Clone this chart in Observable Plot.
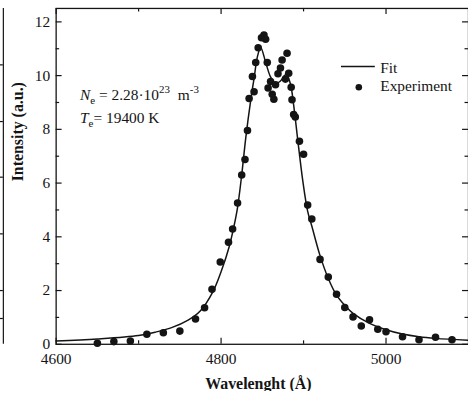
<!DOCTYPE html>
<html><head><meta charset="utf-8">
<script src="https://cdn.jsdelivr.net/npm/d3@7"></script>
<script src="https://cdn.jsdelivr.net/npm/@observablehq/plot@0.6"></script>
<style>html,body{margin:0;padding:0;background:#fff;overflow:hidden;}</style>
</head><body><div id="chart"></div>
<script>
// Experimental points (wavelength Å, intensity a.u.)
const expX = [4650, 4670, 4690, 4710, 4730, 4750, 4769, 4780, 4789, 4799, 4809, 4814, 4820, 4825, 4829, 4832, 4834, 4840, 4838, 4842, 4845, 4849, 4852, 4854, 4856, 4857, 4860, 4862, 4864, 4866, 4869, 4872, 4874, 4878, 4880, 4882, 4885, 4886, 4888, 4890, 4895, 4900, 4905, 4910, 4920, 4930, 4940, 4950, 4960, 4970, 4980, 4990, 5000, 5020, 5040, 5060, 5080];
const expY = [0.04, 0.10, 0.12, 0.37, 0.43, 0.49, 0.94, 1.36, 2.05, 3.06, 3.80, 4.29, 5.26, 6.30, 6.88, 7.96, 9.15, 9.40, 9.97, 10.49, 11.04, 11.41, 11.51, 11.35, 10.49, 9.54, 9.78, 9.31, 9.12, 9.66, 10.07, 10.28, 10.58, 9.87, 10.83, 10.09, 9.57, 9.10, 8.55, 8.46, 7.56, 7.07, 5.18, 4.66, 3.16, 2.50, 1.86, 1.37, 1.02, 0.68, 0.91, 0.56, 0.47, 0.28, 0.17, 0.26, 0.17];
// Fit curve
const fitX = [4600, 4650, 4700, 4720, 4740, 4760, 4775, 4790, 4800, 4810, 4816, 4820, 4825, 4830, 4836, 4840, 4844, 4848, 4854, 4860, 4866, 4872, 4879, 4884, 4888, 4893, 4899, 4905, 4910, 4920, 4930, 4940, 4950, 4960, 4980, 5000, 5020, 5040, 5060, 5100];
const fitY = [0.12, 0.20, 0.33, 0.45, 0.62, 0.90, 1.25, 1.95, 2.70, 3.65, 4.45, 5.10, 6.30, 7.70, 9.10, 9.90, 10.70, 11.05, 10.50, 9.95, 9.70, 9.80, 10.05, 9.70, 8.90, 7.60, 6.10, 4.95, 4.40, 3.30, 2.45, 1.83, 1.45, 1.15, 0.78, 0.54, 0.38, 0.28, 0.22, 0.15];
// Ticks
const xMajorTicks = [4600, 4800, 5000];
const xMinorTicks = [4700, 4900];
const yMajorTicks = [0, 2, 4, 6, 8, 10, 12];
const yMinorTicks = [1, 3, 5, 7, 9, 11];
// Labels
const xLabel = "Wavelenght (Å)";
const yLabel = "Intensity (a.u.)";
const legendLabels = ["Fit", "Experiment"];
// Edge of the neighbouring panel (cropped), its tick positions
const prevPanelEdgeX = 4536;
const prevPanelTicksY = [10.4, 8.29, 6.22, 4.11, 2.0, 0.96];

const fit = fitX.map((x, i) => ({x, y: fitY[i]}));
const exp = expX.map((x, i) => ({x, y: expY[i]}));

const W = 471, H = 394, mL = 56, mR = 0, mT = 8, mB = 48;
const ph = H - mT - mB, pw = W - mL - mR;
const ink = "#141414";

const chart = Plot.plot({
  width: W, height: H,
  marginLeft: mL, marginRight: mR, marginTop: mT, marginBottom: mB,
  x: {domain: [4600, 5100]},
  y: {domain: [0, 12.5]},
  style: {fontFamily: "'Liberation Serif', 'Times New Roman', serif", fontSize: "15px", background: "#fff", color: ink},
  marks: [
    Plot.frame({stroke: ink, strokeWidth: 1.3}),
    // inward ticks on all four sides
    Plot.tickX(xMajorTicks, {x: d => d, stroke: ink, strokeWidth: 1.2, insetTop: ph - 6}),
    Plot.tickX(xMinorTicks, {x: d => d, stroke: ink, strokeWidth: 1.2, insetTop: ph - 3.5}),
    Plot.tickX(xMajorTicks, {x: d => d, stroke: ink, strokeWidth: 1.2, insetBottom: ph - 6}),
    Plot.tickX(xMinorTicks, {x: d => d, stroke: ink, strokeWidth: 1.2, insetBottom: ph - 3.5}),
    Plot.tickY(yMajorTicks, {y: d => d, stroke: ink, strokeWidth: 1.2, insetRight: pw - 6}),
    Plot.tickY(yMinorTicks, {y: d => d, stroke: ink, strokeWidth: 1.2, insetRight: pw - 3.5}),
    Plot.tickY(yMajorTicks, {y: d => d, stroke: ink, strokeWidth: 1.2, insetLeft: pw - 6}),
    Plot.tickY(yMinorTicks, {y: d => d, stroke: ink, strokeWidth: 1.2, insetLeft: pw - 3.5}),
    Plot.axisX(xMajorTicks, {tickSize: 0, tickPadding: 9, tickFormat: d => String(d), label: null, fontSize: 15.5}),
    Plot.axisY(yMajorTicks, {tickSize: 0, tickPadding: 6, tickFormat: d => String(d), label: null, fontSize: 15.5}),
    Plot.text([xLabel], {frameAnchor: "bottom", dx: -4, dy: 45, lineAnchor: "bottom", fontWeight: "bold", fontSize: 16}),
    Plot.text([yLabel], {frameAnchor: "left", dx: -38, dy: 5, rotate: -90, fontWeight: "bold", fontSize: 16}),
    // neighbouring panel edge
    Plot.ruleX([prevPanelEdgeX], {y1: 0, y2: 12.5, stroke: ink, strokeWidth: 1.2}),
    Plot.ruleY(prevPanelTicksY, {x1: prevPanelEdgeX - 4.5, x2: prevPanelEdgeX, y: d => d, stroke: ink, strokeWidth: 1.2}),
    // data
    Plot.line(fit, {x: "x", y: "y", stroke: ink, strokeWidth: 1.5, curve: "catmull-rom"}),
    Plot.dot(exp, {x: "x", y: "y", r: 3.8, fill: ink, stroke: "none"}),
    // legend
    Plot.ruleY([10.34], {x1: 4946, x2: 4987, stroke: ink, strokeWidth: 1.5}),
    Plot.dot([{x: 4967, y: 9.57}], {x: "x", y: "y", r: 3.3, fill: ink}),
    Plot.text([legendLabels[0]], {x: 4993, y: 10.11, textAnchor: "start", lineAnchor: "bottom", fontSize: 15.5}),
    Plot.text([legendLabels[1]], {x: 4993, y: 9.41, textAnchor: "start", lineAnchor: "bottom", fontSize: 15.5}),
    // annotation placeholders (rich text filled below)
    Plot.text(["Ne = 2.28·10^23 m^-3"], {x: 4629, y: 9.1, textAnchor: "start", lineAnchor: "bottom", fontSize: 15.5}),
    Plot.text(["Te= 19400 K"], {x: 4629, y: 8.25, textAnchor: "start", lineAnchor: "bottom", fontSize: 15.5})
  ]
});
document.getElementById("chart").appendChild(chart);

// rich text for the annotation (sub/superscripts)
chart.querySelectorAll("text").forEach(t => {
  if (t.textContent === "Ne = 2.28·10^23 m^-3") {
    t.innerHTML = '<tspan font-style="italic">N</tspan><tspan font-size="11" dy="4">e</tspan><tspan dy="-4"> = 2.28·10</tspan><tspan font-size="11" dy="-7">23</tspan><tspan dy="7" dx="8">m</tspan><tspan font-size="11" dy="-7">-3</tspan>';
  } else if (t.textContent === "Te= 19400 K") {
    t.innerHTML = '<tspan font-style="italic">T</tspan><tspan font-size="11" dy="4">e</tspan><tspan dy="-4">= 19400 K</tspan>';
  }
});
</script></body></html>
